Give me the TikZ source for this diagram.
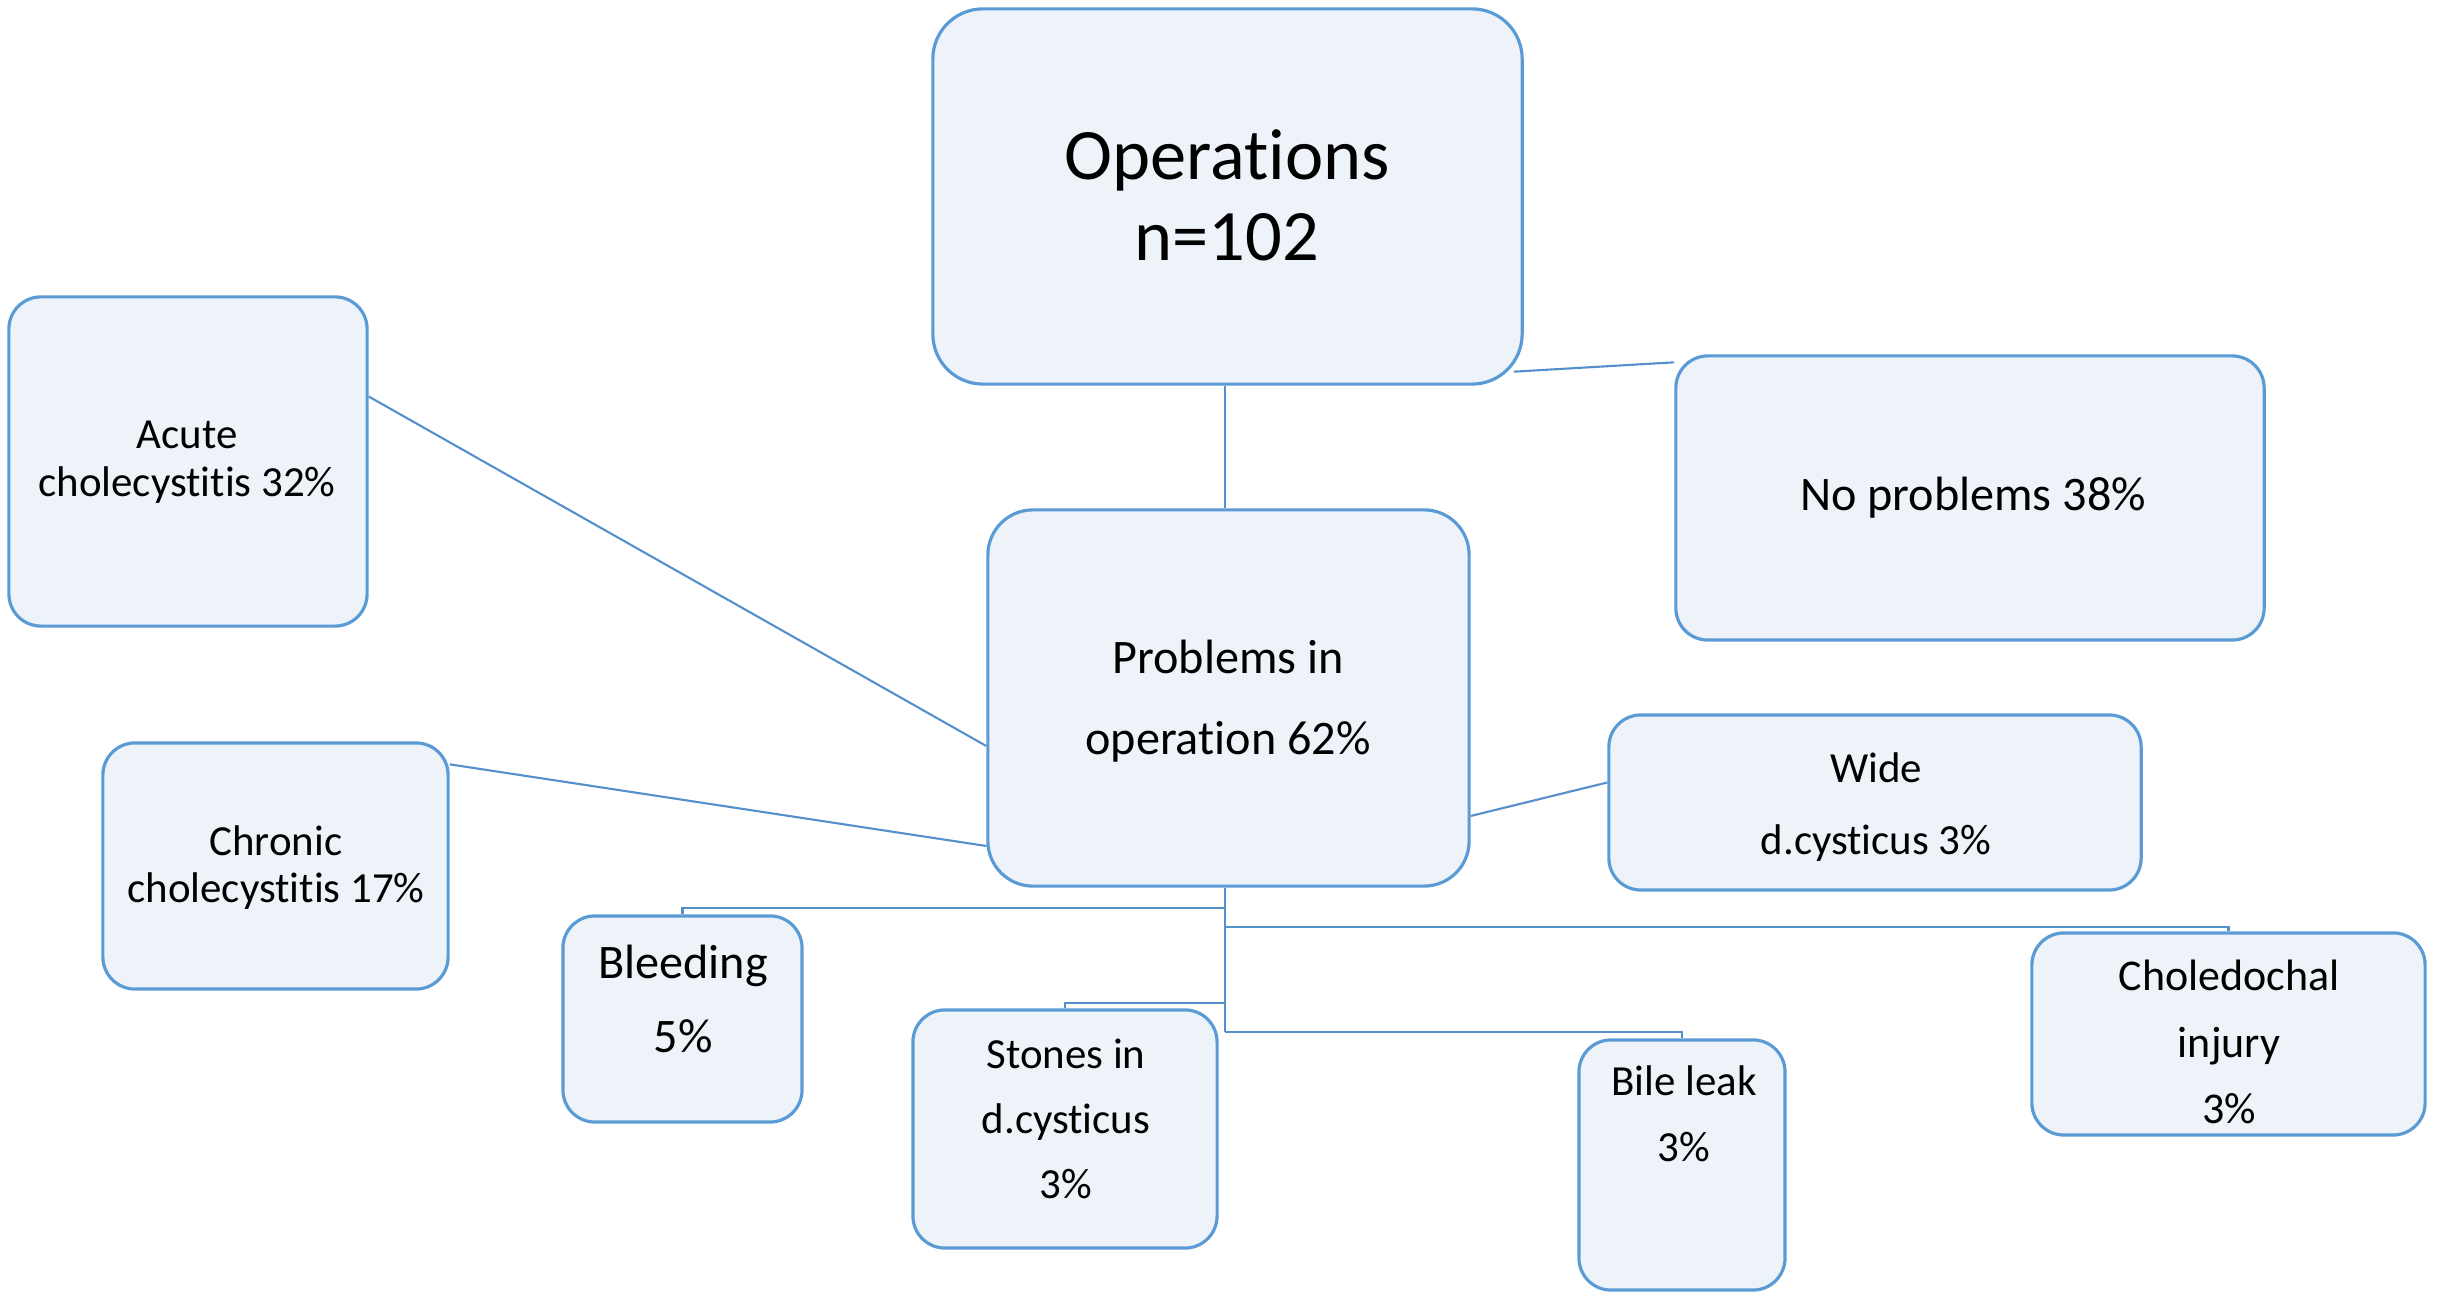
\documentclass[tikz,border=0pt]{standalone}
\usepackage{fontspec}
\setmainfont[Ligatures=NoCommon]{Carlito}
\usetikzlibrary{calc}
\definecolor{bbord}{HTML}{5B9BD5}
\definecolor{bfill}{HTML}{EEF3FA}
\definecolor{lcol}{HTML}{5590CC}
\tikzset{
  box/.style={draw=bbord, fill=bfill, line width=0.9pt, rounded corners=0.32cm, inner sep=0pt},
  txt/.style={align=center, inner sep=0pt, text=black},
  conn/.style={draw=lcol, line width=0.6pt},
  fsmall/.style={font=\fontsize{12.2}{#1}\selectfont},
  fmid/.style={font=\fontsize{13.7}{#1}\selectfont}
}
\begin{document}
\begin{tikzpicture}[x=0.01cm, y=-0.01cm]
\useasboundingbox (0,0) rectangle (2447,1292);

% boxes
\node[box, rounded corners=0.5cm, minimum width=5.89cm, minimum height=3.75cm] (ops) at (1227.5,196.5) {};
\node[box, minimum width=3.58cm, minimum height=3.29cm] (acute) at (188,461.5) {};
\node[box, minimum width=5.88cm, minimum height=2.84cm] (nop) at (1970,498) {};
\node[box, rounded corners=0.45cm, minimum width=4.81cm, minimum height=3.76cm] (prob) at (1228.5,698) {};
\node[box, minimum width=3.45cm, minimum height=2.46cm] (chron) at (275.5,866) {};
\node[box, minimum width=5.32cm, minimum height=1.75cm] (wide) at (1875,802.5) {};
\node[box, minimum width=2.39cm, minimum height=2.06cm] (bleed) at (682.5,1019) {};
\node[box, minimum width=3.04cm, minimum height=2.38cm] (stones) at (1065,1129) {};
\node[box, minimum width=2.06cm, minimum height=2.50cm] (bile) at (1682,1165) {};
\node[box, minimum width=3.93cm, minimum height=2.02cm] (chol) at (2228.5,1034) {};

% texts
\node[txt, font=\fontsize{20.6}{23}\selectfont] (opst) at (1227,195) {Operations\\n=102};
\node[txt, fsmall=13.7] (acutet) at (187,462) {Acute\\cholecystitis 32\%};
\node[txt, fmid=16] (nopt) at (1973,498) {No problems 38\%};
\node[txt, fmid=23] (probt) at (1228,701) {Problems in\\operation 62\%};
\node[txt, fsmall=13.4] (chront) at (276,868) {Chronic\\cholecystitis 17\%};
\node[txt, fsmall=20.5] (widet) at (1876,807) {Wide\\d.cysticus 3\%};
\node[txt, fmid=20.8] (bleedt) at (683,999) {Bleeding\\5\%};
\node[txt, fsmall=18.5] (stonest) at (1066,1119) {Stones in\\d.cysticus\\3\%};
\node[txt, fsmall=18.8] (bilet) at (1684,1114) {Bile leak\\3\%};
\node[txt, font=\fontsize{12.5}{18.8}\selectfont] (cholt) at (2229,1042) {Choledochal\\injury\\3\%};

% junctions of the lower tree
\coordinate (jb) at (1225,908);
\coordinate (jc) at (1225,927);
\coordinate (js) at (1225,1003);
\coordinate (jl) at (1225,1032);

% connectors
\draw[conn] (ops.south -| jb) -- (prob.north -| jb);
\draw[conn] ($(ops.south east)+(-10,-14)$) -- ($(nop.north west)+(0,8)$);
\draw[conn] ($(acute.east)+(0,-65)$) -- ($(prob.west)+(0,48)$);
\draw[conn] ($(chron.north east)+(0,23)$) -- ($(prob.west)+(0,148)$);
\draw[conn] ($(prob.east)+(0,118)$) -- ($(wide.west)+(0,-20)$);
\draw[conn] (jb |- prob.south) -- (jl);
\draw[conn] (jb) -| (bleed.north);
\draw[conn] (jc) -| (chol.north);
\draw[conn] (js) -| (stones.north);
\draw[conn] (jl) -| (bile.north);
\end{tikzpicture}
\end{document}
